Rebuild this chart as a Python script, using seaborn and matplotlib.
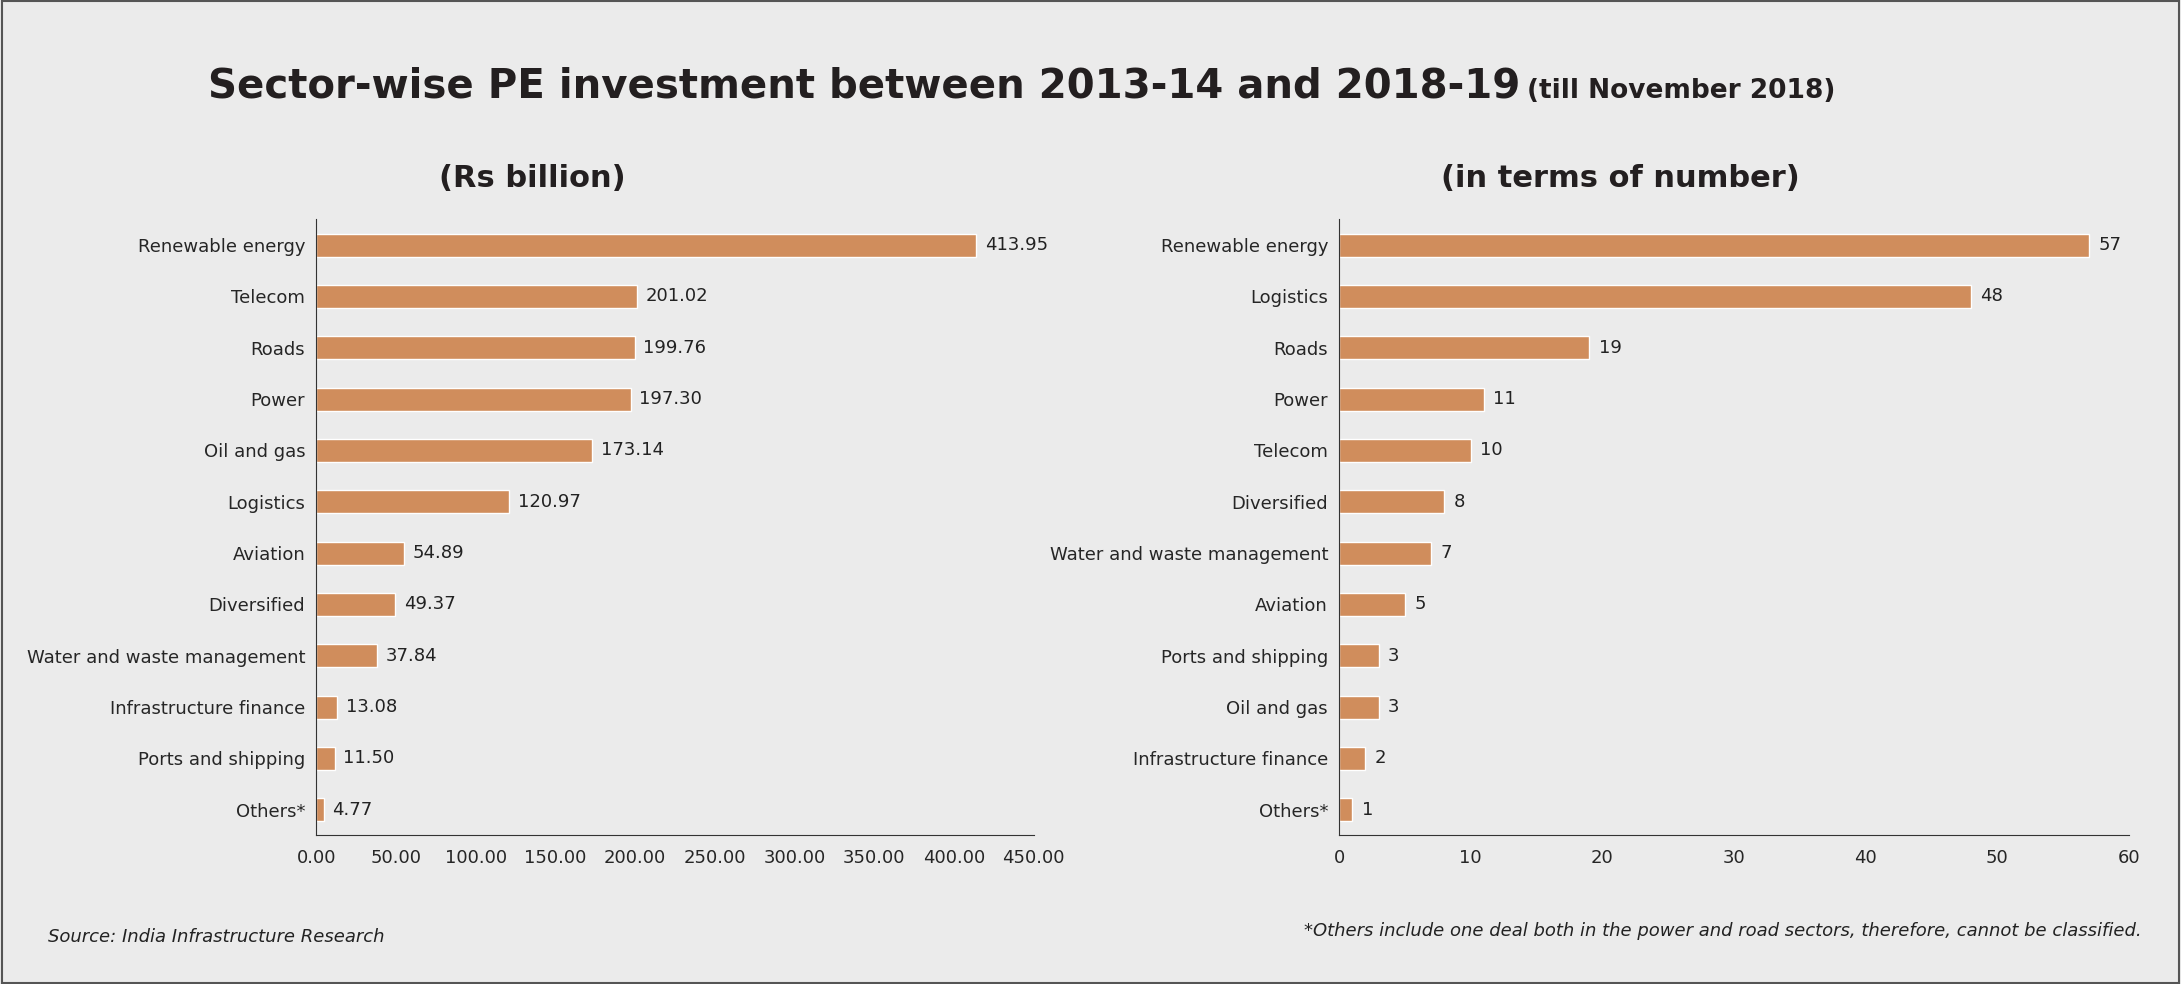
import matplotlib
matplotlib.use("Agg")
import matplotlib.pyplot as plt
import seaborn as sns
import pandas as pd
import numpy as np
from matplotlib.ticker import FixedLocator

sns.set_style("white")
plt.rcParams['font.family'] = ['Liberation Sans Narrow', 'DejaVu Sans']

left_cats = ["Renewable energy", "Telecom", "Roads", "Power", "Oil and gas", "Logistics",
             "Aviation", "Diversified", "Water and waste management", "Infrastructure finance",
             "Ports and shipping", "Others*"]
left_vals = [413.95, 201.02, 199.76, 197.30, 173.14, 120.97, 54.89, 49.37, 37.84, 13.08, 11.50, 4.77]
right_cats = ["Renewable energy", "Logistics", "Roads", "Power", "Telecom", "Diversified",
              "Water and waste management", "Aviation", "Ports and shipping", "Oil and gas",
              "Infrastructure finance", "Others*"]
right_vals = [57, 48, 19, 11, 10, 8, 7, 5, 3, 3, 2, 1]

bg = "#ebebeb"
bar_color = "#d08d5c"
fig = plt.figure(figsize=(21.81, 9.84), dpi=100, facecolor=bg)
fig.patches.append(plt.Rectangle((0.001, 0.001), 0.998, 0.998, transform=fig.transFigure,
                                 fill=False, edgecolor="#555555", lw=1.5))
ax1 = fig.add_axes([0.145, 0.151, 0.329, 0.626], facecolor=bg)
ax2 = fig.add_axes([0.614, 0.151, 0.362, 0.626], facecolor=bg)

def draw(ax, cats, vals, xmax, step, fmt):
    df = pd.DataFrame({"cat": cats, "val": vals})
    sns.barplot(data=df, y="cat", x="val", ax=ax, color=bar_color, width=0.45, saturation=1)
    ax.set_xlim(0, xmax)
    ax.set_ylim(len(cats) - 0.5, -0.5)
    ax.set_xticks(np.arange(0, xmax + step / 2, step))
    ax.set_xticklabels([fmt.format(v) for v in np.arange(0, xmax + step / 2, step)], fontsize=13)
    ax.set_yticks(range(len(cats)))
    ax.set_yticklabels(cats, fontsize=13)
    ax.yaxis.set_minor_locator(FixedLocator(np.arange(-0.5, len(cats), 1)))
    ax.tick_params(axis='y', which='major', length=0, pad=8)
    ax.tick_params(axis='y', which='minor', length=6, color="#333333", direction='out')
    ax.tick_params(axis='x', length=6, color="#333333", direction='out')
    ax.set_xlabel(""); ax.set_ylabel("")
    for s in ["top", "right"]:
        ax.spines[s].set_visible(False)
    for s in ["left", "bottom"]:
        ax.spines[s].set_color("#333333")
    for i, v in enumerate(vals):
        lab = "{:.2f}".format(v) if isinstance(v, float) else str(v)
        ax.text(v + xmax * 0.012, i, lab, va="center", ha="left", fontsize=13, color="#222222")

draw(ax1, left_cats, left_vals, 450, 50, "{:.2f}")
draw(ax2, right_cats, right_vals, 60, 10, "{:.0f}")

fig.text(0.697, 0.912, "Sector-wise PE investment between 2013-14 and 2018-19", fontsize=29,
         fontweight="bold", ha="right", va="center", color="#231f20")
fig.text(0.700, 0.908, "(till November 2018)", fontsize=19, fontweight="bold",
         ha="left", va="center", color="#231f20")
fig.text(0.244, 0.819, "(Rs billion)", fontsize=22, fontweight="bold", ha="center", va="center", color="#231f20")
fig.text(0.743, 0.819, "(in terms of number)", fontsize=22, fontweight="bold", ha="center", va="center", color="#231f20")
fig.text(0.022, 0.048, "Source: India Infrastructure Research", fontsize=13, style="italic",
         ha="left", va="center", color="#222222")
fig.text(0.982, 0.054, "*Others include one deal both in the power and road sectors, therefore, cannot be classified.",
         fontsize=13, style="italic", ha="right", va="center", color="#222222")

fig.savefig("out.png", dpi=100, facecolor=bg)
